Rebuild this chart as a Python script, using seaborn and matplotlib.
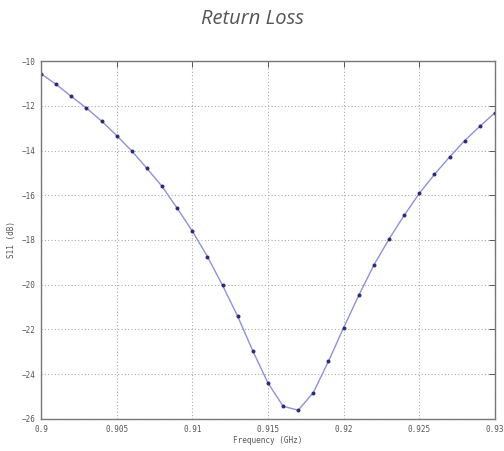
import numpy as np
import pandas as pd
import matplotlib.pyplot as plt
import seaborn as sns

# frecuencias (GHz) y perdidas de retorno S11 (dB)
freq_ghz = [0.900, 0.901, 0.902, 0.903, 0.904, 0.905, 0.906, 0.907, 0.908, 0.909,
            0.910, 0.911, 0.912, 0.913, 0.914, 0.915, 0.916, 0.917, 0.918, 0.919,
            0.920, 0.921, 0.922, 0.923, 0.924, 0.925, 0.926, 0.927, 0.928, 0.929,
            0.930]
s11_db = [-10.57, -11.04, -11.58, -12.10, -12.68, -13.33, -14.02, -14.80, -15.60, -16.58,
          -17.60, -18.74, -20.03, -21.41, -22.96, -24.39, -25.43, -25.61, -24.82, -23.42,
          -21.92, -20.48, -19.12, -17.96, -16.90, -15.92, -15.07, -14.29, -13.56, -12.92,
          -12.31]
xticks = [0.9, 0.905, 0.91, 0.915, 0.92, 0.925, 0.93]
xtick_labels = ['0.9', '0.905', '0.91', '0.915', '0.92', '0.925', '0.93']
yticks = [-26, -24, -22, -20, -18, -16, -14, -12, -10]

df = pd.DataFrame({'freq': freq_ghz, 's11': s11_db})

sns.set_style('white')
fig = plt.figure(figsize=(5.04, 4.51), dpi=100)
ax = fig.add_axes([0.0813, 0.071, 0.9007, 0.7937])

sns.lineplot(data=df, x='freq', y='s11', ax=ax, color='#9090dc', linewidth=1.0,
             marker='o', markersize=2.1, markerfacecolor='#2a2a70',
             markeredgecolor='#2a2a70')

ax.set_xlim(0.9, 0.93)
ax.set_ylim(-26, -10)
ax.set_xticks(xticks)
ax.set_xticklabels(xtick_labels)
ax.set_yticks(yticks)

# estilo tipo matlab: rejilla punteada, ticks hacia dentro
ax.grid(True, linestyle=(0, (1, 2)), color='#aaaaaa', linewidth=0.8)
ax.tick_params(direction='in', length=4, width=0.7, colors='#555555',
               labelsize=5.5, top=True, right=True, pad=4)
for lab in ax.get_xticklabels() + ax.get_yticklabels():
    lab.set_family('DejaVu Sans Mono')
for sp in ax.spines.values():
    sp.set_color('#777777')
    sp.set_linewidth(1.0)

ax.set_xlabel('Frequency (GHz)', fontsize=5.5, family='DejaVu Sans Mono',
              color='#555555', labelpad=2)
ax.set_ylabel('S11 (dB)', fontsize=5.5, family='DejaVu Sans Mono',
              color='#555555', labelpad=4)

fig.text(0.5, 0.957, 'Return Loss', ha='center', va='center', fontsize=14.5,
         style='italic', family='Open Sans', color='#555555')

plt.savefig('out.png', dpi=100)
